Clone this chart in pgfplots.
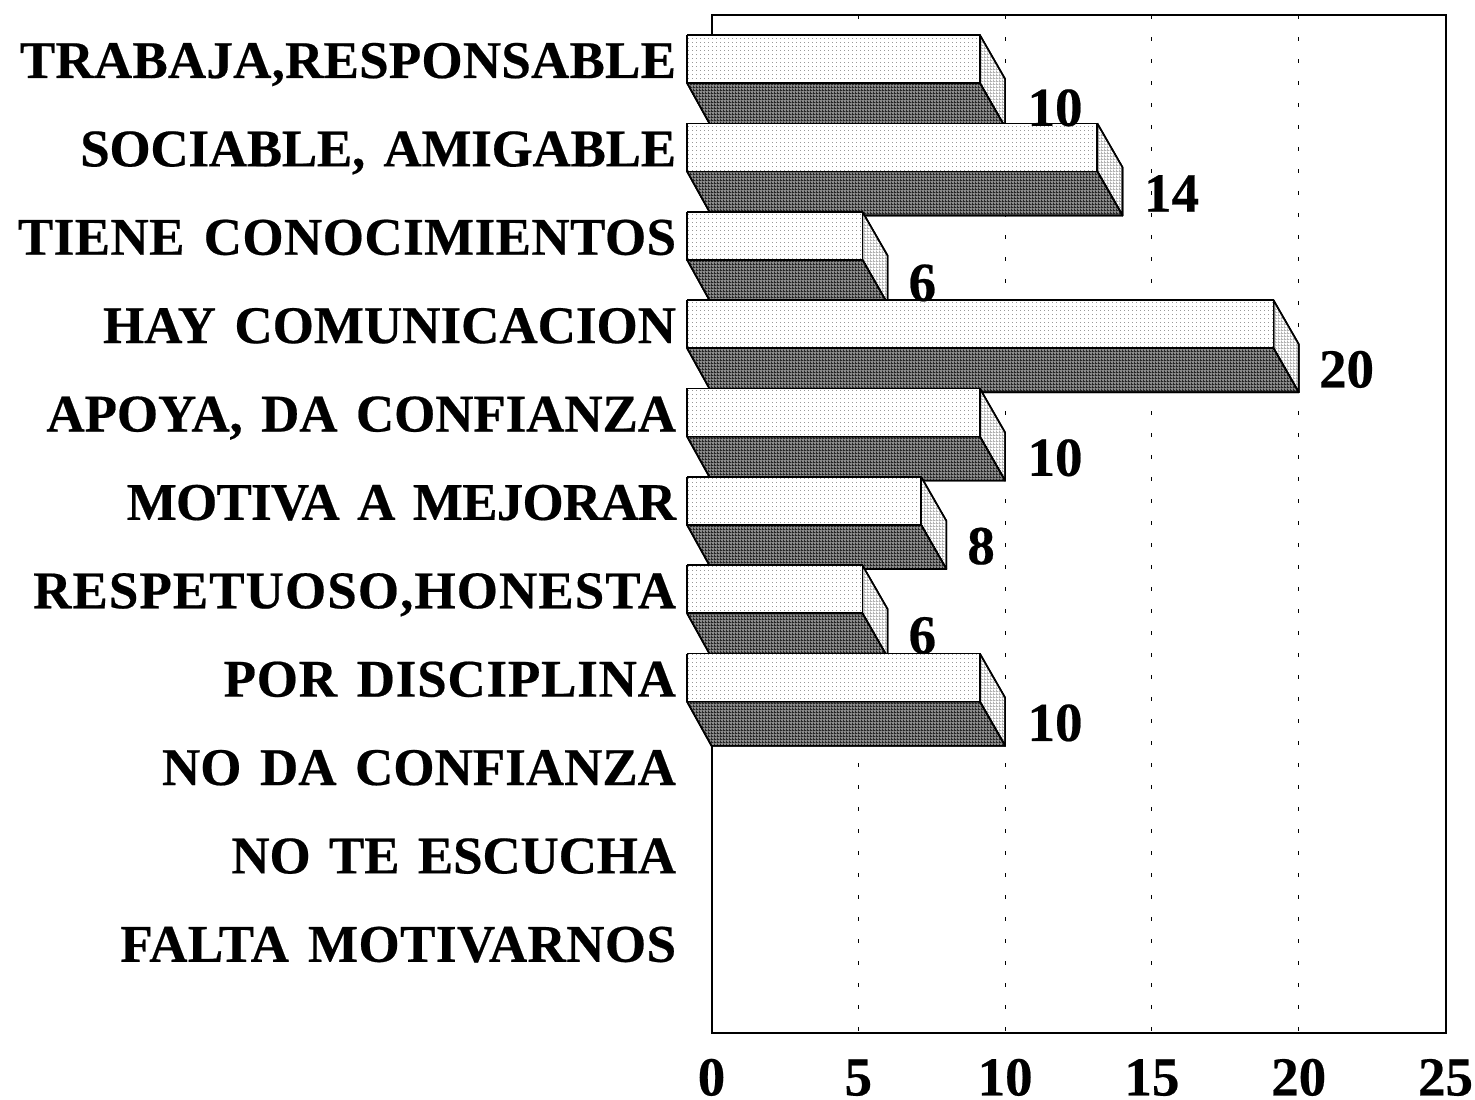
\documentclass[border=0pt]{standalone}
\usepackage{fontspec}
\setmainfont[BoldFeatures={FakeBold=0.4}]{Liberation Serif}
\newfontfamily\labfont[WordSpace=1.4,BoldFeatures={FakeBold=0.4}]{Liberation Serif}
\newcommand{\ls}[2]{{\addfontfeature{LetterSpace=#1}#2}}
\usepackage{pgfplots}
\pgfplotsset{compat=1.18}
\usetikzlibrary{patterns}
\pgfdeclarepatternformonly{fdots}{\pgfqpoint{-0.5pt}{-0.5pt}}{\pgfqpoint{2pt}{2pt}}{\pgfqpoint{2pt}{2pt}}{%
  \pgfpathrectangle{\pgfqpoint{0pt}{0pt}}{\pgfqpoint{0.5pt}{0.5pt}}\pgfusepath{fill}}
\pgfdeclarepatternformonly{fgrid}{\pgfqpoint{0pt}{0pt}}{\pgfqpoint{1.5pt}{1.5pt}}{\pgfqpoint{1.5pt}{1.5pt}}{%
  \pgfpathrectangle{\pgfqpoint{0pt}{0pt}}{\pgfqpoint{1.5pt}{0.6pt}}\pgfusepath{fill}
  \pgfpathrectangle{\pgfqpoint{0pt}{0pt}}{\pgfqpoint{0.6pt}{1.5pt}}\pgfusepath{fill}}
\pgfplotsset{
  barface/.style={draw=black,line width=0.8pt,line join=round,mark=none},
  frontf/.style={barface,preaction={fill=white},pattern=fdots,pattern color=black!40},
  sidef/.style={barface,preaction={fill=white},pattern=fgrid,pattern color=black!30},
  bottomf/.style={barface,preaction={fill=black!45},pattern=fgrid,pattern color=black!85},
}
\newcommand{\tdbar}[2]{%
  \pgfmathsetmacro{\xf}{#2-0.86}%
  \pgfmathsetmacro{\yt}{#1-0.283}%
  \pgfmathsetmacro{\yb}{#1+0.26}%
  \pgfmathsetmacro{\ys}{#1+0.215}%
  \pgfmathsetmacro{\yk}{#1+0.76}%
  \edef\tmp{\noexpand\addplot[sidef] coordinates {(\xf,\yt) (#2,\ys) (#2,\yk) (\xf,\yb) (\xf,\yt)};
    \noexpand\addplot[bottomf] coordinates {(-0.834,\yb) (0,\yk) (#2,\yk) (\xf,\yb) (-0.834,\yb)};
    \noexpand\addplot[frontf] coordinates {(-0.834,\yt) (\xf,\yt) (\xf,\yb) (-0.834,\yb) (-0.834,\yt)};}%
  \tmp}
\begin{document}
\begin{tikzpicture}[x=1pt,y=1pt]
\path[use as bounding box] (0,0) rectangle (737.5,549.5);
\begin{axis}[
  at={(355.75pt,33pt)},anchor=south west,
  scale only axis,width=367pt,height=509pt,
  xmin=0,xmax=25,ymin=-0.509,ymax=11.01,y dir=reverse,
  clip=false,
  axis line style={line width=1pt},
  xtick={0,5,10,15,20,25},
  ytick={0,1,2,3,4,5,6,7,8,9,10},
  yticklabels={\ls{0.4}{TRABAJA,RESPONSABLE},\ls{-0.5}{SOCIABLE, AMIGABLE},\ls{0.8}{TIENE CONOCIMIENTOS},HAY COMUNICACION,\ls{-0.2}{APOYA, DA CONFIANZA},\ls{-1.5}{MOTIVA A MEJORAR},\ls{2}{RESPETUOSO,HONESTA},\ls{1.5}{POR DISCIPLINA},NO DA CONFIANZA,\ls{-0.3}{NO TE ESCUCHA},\ls{0.8}{FALTA MOTIVARNOS}},
  major tick length=0pt,
  xmajorgrids=true,
  grid style={black,line width=0.5pt,dash pattern=on 2pt off 9pt},
  /pgf/number format/assume math mode=true,
  yticklabel style={font=\labfont\fontsize{26.5}{27}\selectfont\bfseries,inner sep=0pt,anchor=east,xshift=-17.5pt,text height=18pt,text depth=0pt},
  xticklabel style={font=\fontsize{27.5}{28}\selectfont\bfseries,inner sep=0pt,anchor=north,yshift=-12pt,text height=19pt,text depth=0pt},
]
\addplot[draw=none,mark=none,point meta=explicit symbolic,nodes near coords,
  nodes near coords style={anchor=west,inner sep=0pt,text height=19pt,text depth=0pt,font=\fontsize{27.5}{28}\selectfont\bfseries}]
  coordinates {(10.75,0.53)[10] (14.72,1.5)[14] (6.7,2.51)[6] (20.68,3.49)[20] (10.75,4.49)[10] (8.7,5.49)[8] (6.7,6.5)[6] (10.75,7.49)[10]};
\tdbar{0}{10}
\tdbar{1}{14}
\tdbar{2}{6}
\tdbar{3}{20}
\tdbar{4}{10}
\tdbar{5}{8}
\tdbar{6}{6}
\tdbar{7}{10}
\end{axis}
\end{tikzpicture}
\end{document}
